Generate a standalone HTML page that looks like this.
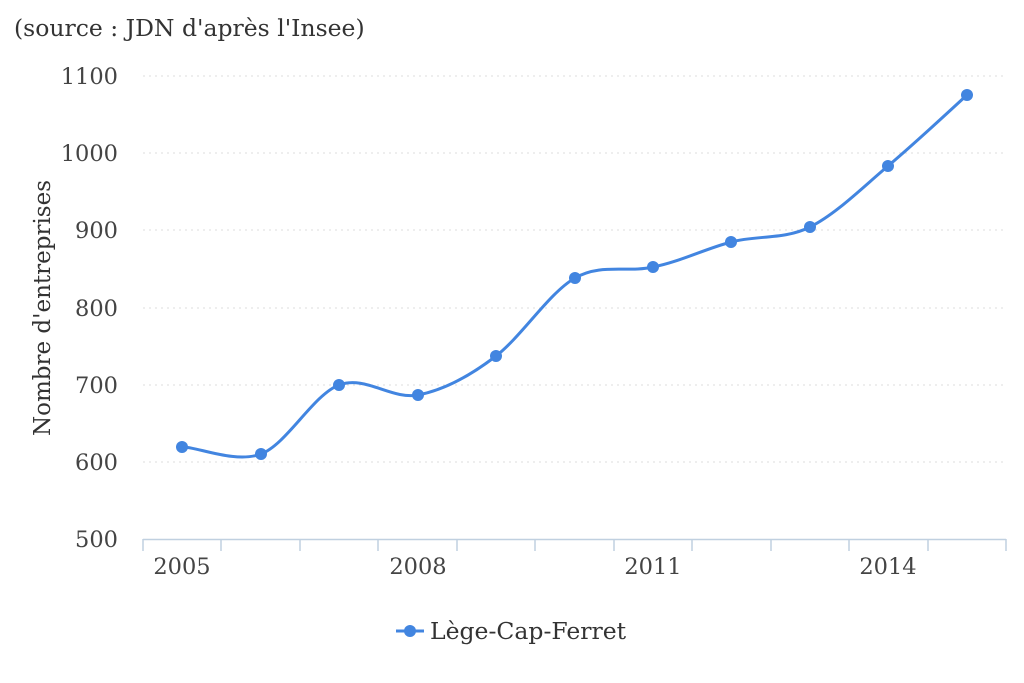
<!DOCTYPE html>
<html><head><meta charset="utf-8"><style>
body{margin:0;background:#fff;}
svg{display:block;font-family:"DejaVu Serif","Liberation Serif",serif;}
</style></head><body>
<svg width="1024" height="683" viewBox="0 0 1024 683">
<text x="14" y="36" font-size="23.5" fill="#333">(source : JDN d'après l'Insee)</text>
<g stroke="#ddd" stroke-width="1" stroke-dasharray="2,4">
<line x1="143" x2="1006" y1="76" y2="76"/>
<line x1="143" x2="1006" y1="153" y2="153"/>
<line x1="143" x2="1006" y1="230" y2="230"/>
<line x1="143" x2="1006" y1="308" y2="308"/>
<line x1="143" x2="1006" y1="385" y2="385"/>
<line x1="143" x2="1006" y1="462" y2="462"/>
</g>
<g font-size="22.5" fill="#444" text-anchor="end">
<text x="118" y="84">1100</text>
<text x="118" y="161">1000</text>
<text x="118" y="238">900</text>
<text x="118" y="316">800</text>
<text x="118" y="393">700</text>
<text x="118" y="470">600</text>
<text x="118" y="547">500</text>
</g>
<text transform="translate(50,308) rotate(-90)" font-size="23" fill="#333" text-anchor="middle">Nombre d'entreprises</text>
<line x1="143" x2="1006" y1="539.5" y2="539.5" stroke="#c0d0e0" stroke-width="1.5"/>
<g stroke="#c0d0e0" stroke-width="1.5">
<line x1="143" x2="143" y1="539" y2="551"/>
<line x1="221" x2="221" y1="539" y2="551"/>
<line x1="300" x2="300" y1="539" y2="551"/>
<line x1="378" x2="378" y1="539" y2="551"/>
<line x1="457" x2="457" y1="539" y2="551"/>
<line x1="535" x2="535" y1="539" y2="551"/>
<line x1="614" x2="614" y1="539" y2="551"/>
<line x1="692" x2="692" y1="539" y2="551"/>
<line x1="771" x2="771" y1="539" y2="551"/>
<line x1="849" x2="849" y1="539" y2="551"/>
<line x1="928" x2="928" y1="539" y2="551"/>
<line x1="1006" x2="1006" y1="539" y2="551"/>
</g>
<g font-size="22.5" fill="#444" text-anchor="middle">
<text x="182" y="574">2005</text>
<text x="418" y="574">2008</text>
<text x="653" y="574">2011</text>
<text x="888" y="574">2014</text>
</g>
<path d="M182,447 C195,446 235,464 261,454 C287,444 313,395 339,385 C365,375 392,400 418,395 C444,390 470,376 496,356 C522,336 549,293 575,278 C601,263 627,273 653,267 C679,262 705,249 731,242 C757,235 784,240 810,227 C836,214 862,188 888,166 C914,144 954,107 967,95" fill="none" stroke="#4285e0" stroke-width="3"/>
<g fill="#4285e0">
<circle cx="182" cy="447" r="6"/><circle cx="261" cy="454" r="6"/><circle cx="339" cy="385" r="6"/>
<circle cx="418" cy="395" r="6"/><circle cx="496" cy="356" r="6"/><circle cx="575" cy="278" r="6"/>
<circle cx="653" cy="267" r="6"/><circle cx="731" cy="242" r="6"/><circle cx="810" cy="227" r="6"/>
<circle cx="888" cy="166" r="6"/><circle cx="967" cy="95" r="6"/>
</g>
<line x1="396" x2="424" y1="631" y2="631" stroke="#4285e0" stroke-width="3"/>
<circle cx="410" cy="631" r="6" fill="#4285e0"/>
<text x="430" y="639" font-size="23.5" fill="#333">Lège-Cap-Ferret</text>
</svg>
</body></html>
